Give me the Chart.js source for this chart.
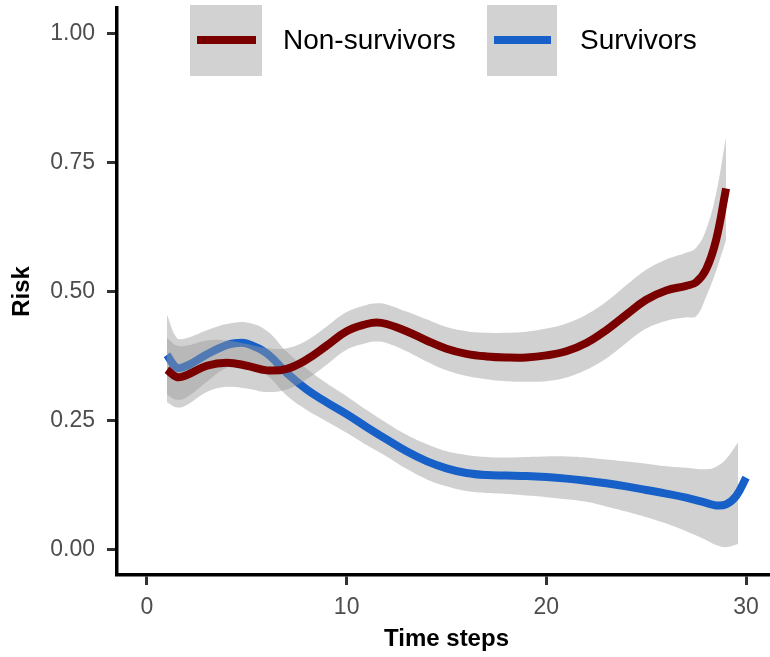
<!DOCTYPE html>
<html>
<head>
<meta charset="utf-8">
<script src="https://cdn.jsdelivr.net/npm/chart.js@4"></script>
<style>
  html, body { margin: 0; padding: 0; background: #fff; overflow: hidden; width: 770px; height: 657px; }
  #wrap { position: relative; width: 776px; height: 657px; }
  canvas { display: block; }
  .key { position: absolute; top: 5px; height: 71px; background: #d2d2d2; }
  .keyline { position: absolute; height: 8px; top: 36px; }
  .lab { position: absolute; top: 22px; font-family: "Liberation Sans", Arial, sans-serif; font-size: 28px; color: #000; line-height: 36px; white-space: nowrap; }
</style>
</head>
<body>
<div id="wrap">
  <canvas id="c" width="776" height="657"></canvas>
  <div class="key" style="left:190px;width:72px;"></div>
  <div class="keyline" style="left:197px;width:59px;background:#7A0000;"></div>
  <div class="lab" style="left:283px;">Non-survivors</div>
  <div class="key" style="left:487px;width:70px;"></div>
  <div class="keyline" style="left:494px;width:57px;background:#1760C8;"></div>
  <div class="lab" style="left:580px;">Survivors</div>
</div>
<script>
// ---- data ----
const seriesNames = ["Non-survivors", "Survivors"];
const xTicks = [0, 10, 20, 30];
const yTicks = [0, 0.25, 0.5, 0.75, 1.0];

const nonSurvX     = [1, 1.5, 2, 3, 4, 5, 6, 7, 8, 9, 10, 11, 11.5, 12, 13, 14, 15, 16, 17, 18, 19, 20, 21, 22, 23, 24, 25, 26, 27, 27.5, 28, 28.5, 29];
const nonSurvRisk  = [0.348, 0.334, 0.338, 0.356, 0.362, 0.356, 0.347, 0.350, 0.368, 0.395, 0.423, 0.437, 0.440, 0.437, 0.423, 0.405, 0.389, 0.379, 0.374, 0.372, 0.372, 0.376, 0.384, 0.400, 0.425, 0.455, 0.484, 0.502, 0.511, 0.518, 0.543, 0.600, 0.700];
const nonSurvUpper = [0.410, 0.395, 0.395, 0.405, 0.405, 0.398, 0.390, 0.390, 0.405, 0.432, 0.460, 0.474, 0.477, 0.475, 0.461, 0.446, 0.431, 0.423, 0.420, 0.420, 0.422, 0.428, 0.438, 0.455, 0.480, 0.512, 0.542, 0.562, 0.575, 0.585, 0.620, 0.690, 0.800];
const nonSurvLower = [0.285, 0.275, 0.280, 0.305, 0.315, 0.312, 0.305, 0.310, 0.330, 0.358, 0.387, 0.400, 0.403, 0.400, 0.384, 0.364, 0.347, 0.336, 0.330, 0.326, 0.325, 0.326, 0.333, 0.348, 0.370, 0.400, 0.428, 0.443, 0.450, 0.452, 0.490, 0.540, 0.600];

const survX     = [1, 1.5, 2, 3, 4, 4.5, 5, 6, 7, 8, 9, 10, 11, 12, 13, 14, 15, 16, 17, 18, 19, 20, 21, 22, 23, 24, 25, 26, 27, 28, 28.5, 29, 29.5, 30];
const survRisk  = [0.377, 0.352, 0.356, 0.378, 0.396, 0.400, 0.399, 0.380, 0.342, 0.310, 0.285, 0.262, 0.237, 0.213, 0.190, 0.171, 0.157, 0.148, 0.144, 0.143, 0.142, 0.140, 0.137, 0.133, 0.128, 0.122, 0.115, 0.108, 0.100, 0.090, 0.085, 0.087, 0.103, 0.139];
const survBandX = [1, 1.5, 2, 3, 4, 5, 6, 7, 8, 9, 10, 11, 12, 13, 14, 15, 16, 17, 18, 19, 20, 21, 22, 23, 24, 25, 26, 27, 28, 28.5, 29, 29.6];
const survUpper = [0.455, 0.410, 0.410, 0.425, 0.437, 0.440, 0.424, 0.383, 0.350, 0.322, 0.297, 0.270, 0.245, 0.222, 0.204, 0.190, 0.183, 0.179, 0.178, 0.179, 0.180, 0.180, 0.178, 0.174, 0.170, 0.166, 0.161, 0.158, 0.155, 0.160, 0.175, 0.207];
const survLower = [0.300, 0.290, 0.295, 0.325, 0.352, 0.358, 0.338, 0.298, 0.270, 0.248, 0.226, 0.202, 0.180, 0.156, 0.136, 0.122, 0.113, 0.109, 0.107, 0.104, 0.101, 0.097, 0.092, 0.083, 0.073, 0.062, 0.050, 0.035, 0.018, 0.008, 0.004, 0.010];

const pts = (xs, ys) => xs.map((x, i) => ({ x: x, y: ys[i] }));

const RED = '#7A0000', BLUE = '#1760C8', BAND = 'rgba(153,153,153,0.45)';
const FONT = "'Liberation Sans', Arial, sans-serif";

const lineDs = (label, data, color, order) => ({
  label, data, borderColor: color, borderWidth: 8, borderCapStyle: 'butt', borderJoinStyle: 'round',
  pointRadius: 0, fill: false, tension: 0.4, order
});
const bandDs = (label, data, fill, order) => ({
  label, data, borderWidth: 0, borderColor: 'rgba(0,0,0,0)', backgroundColor: BAND,
  pointRadius: 0, fill, tension: 0.4, order
});

new Chart(document.getElementById('c'), {
  type: 'line',
  data: {
    datasets: [
      lineDs(seriesNames[0], pts(nonSurvX, nonSurvRisk), RED, 0),
      bandDs(seriesNames[0] + ' upper', pts(nonSurvX, nonSurvUpper), '+1', 1),
      bandDs(seriesNames[0] + ' lower', pts(nonSurvX, nonSurvLower), false, 2),
      lineDs(seriesNames[1], pts(survX, survRisk), BLUE, 3),
      bandDs(seriesNames[1] + ' upper', pts(survBandX, survUpper), '+1', 4),
      bandDs(seriesNames[1] + ' lower', pts(survBandX, survLower), false, 5)
    ]
  },
  options: {
    responsive: false,
    animation: false,
    layout: { padding: { left: 0, right: 0, top: 8, bottom: 0 } },
    plugins: { legend: { display: false }, tooltip: { enabled: false } },
    scales: {
      x: {
        type: 'linear', min: -1.5, max: 31.5,
        afterBuildTicks: s => { s.ticks = xTicks.map(v => ({ value: v })); },
        afterFit: s => { s.height = 82; s.paddingLeft = 0; s.paddingRight = 0; },
        border: { display: true, color: '#000', width: 3.5 },
        grid: { drawOnChartArea: false, drawTicks: true, tickLength: 10, tickWidth: 3, tickColor: '#333' },
        ticks: { padding: 9, color: '#4d4d4d', font: { family: FONT, size: 23 }, maxRotation: 0 },
        title: { display: true, text: 'Time steps', color: '#000', font: { family: FONT, size: 24, weight: 'bold' }, padding: { top: 4, bottom: 3 } }
      },
      y: {
        type: 'linear', min: -0.05, max: 1.05,
        afterBuildTicks: s => { s.ticks = yTicks.map(v => ({ value: v })); },
        afterFit: s => { s.width = 117; s.paddingTop = 0; s.paddingBottom = 0; },
        border: { display: true, color: '#000', width: 3.5 },
        grid: { drawOnChartArea: false, drawTicks: true, tickLength: 10, tickWidth: 3, tickColor: '#333' },
        ticks: { padding: 12, color: '#4d4d4d', font: { family: FONT, size: 23 }, callback: v => v.toFixed(2) },
        title: { display: true, text: 'Risk', color: '#000', font: { family: FONT, size: 24, weight: 'bold' }, padding: { top: 8, bottom: 4 } }
      }
    }
  }
});
</script>
</body>
</html>
